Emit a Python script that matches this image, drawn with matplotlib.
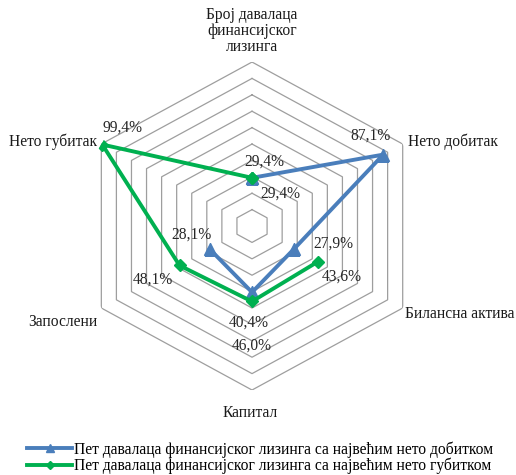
import matplotlib
matplotlib.use("Agg")
import matplotlib.pyplot as plt
import numpy as np

plt.rcParams['font.family'] = ['Liberation Serif', 'DejaVu Serif']

# categories, clockwise from the top
categories = ['Број давалаца\nфинансијског\nлизинга', 'Нето добитак', 'Билансна актива',
              'Капитал', 'Запослени', 'Нето губитак']
# nan = no value (Excel leaves a gap)
profit_vals = [29.4, 87.1, 27.9, 40.4, 28.1, np.nan]
loss_vals = [29.4, np.nan, 43.6, 46.0, 48.1, 99.4]
series_names = ['Пет давалаца финансијског лизинга са највећим нето добитком',
                'Пет давалаца финансијског лизинга са највећим нето губитком']
rings = [10, 20, 30, 40, 50, 60, 70, 80, 90, 100]

blue = '#4A7EBB'
green = '#00B050'
fs = 11.2

fig = plt.figure(figsize=(5.16, 4.75), dpi=100)
ax = fig.add_axes([0.1512, 0.1789, 0.6744, 0.6905], projection='polar')
ax.set_aspect('auto')
ax.set_theta_offset(np.pi / 2)
ax.set_theta_direction(-1)

n = len(categories)
theta = np.arange(n) * 2 * np.pi / n
theta_c = np.append(theta, theta[0])

# hexagon grid
for r in rings:
    ax.plot(theta_c, [r] * (n + 1), color='#9E9E9E', lw=0.9, zorder=1)

ax.grid(False)
ax.spines['polar'].set_visible(False)
ax.set_xticks([])
ax.set_yticks([])
ax.set_ylim(0, 100)

l1, = ax.plot(theta_c, profit_vals + profit_vals[:1], color=blue, lw=2.8,
              marker='^', ms=8, zorder=3, label=series_names[0])
l2, = ax.plot(theta_c, loss_vals + loss_vals[:1], color=green, lw=2.8,
              marker='D', ms=6, zorder=4, label=series_names[1])

# data labels (offsets in pixels)
profit_off = [(28, -16), (-13, 19), (39, 5), (-3, -30), (-18, 14), None]
loss_off = [(12, 16), None, (24, -15), (0, -44), (-27, -14), (20, 17)]
for vals, offs in [(profit_vals, profit_off), (loss_vals, loss_off)]:
    for t, v, o in zip(theta, vals, offs):
        if np.isnan(v):
            continue
        ax.annotate(f"{v:.1f}%".replace('.', ','), xy=(t, v), xytext=o,
                    textcoords='offset pixels', ha='center', va='center',
                    fontsize=fs, color='#262626', zorder=5)

# category labels
cat_off = [(0, 7), (5, 2), (2, -6), (-2, -23), (-4, -14), (-4, 2)]
cat_ha = ['center', 'left', 'left', 'center', 'right', 'right']
cat_va = ['bottom', 'center', 'center', 'center', 'center', 'center']
for t, c, o, ha, va in zip(theta, categories, cat_off, cat_ha, cat_va):
    ax.annotate(c, xy=(t, 100), xytext=o, textcoords='offset pixels',
                ha=ha, va=va, fontsize=fs, color='#1a1a1a',
                multialignment='center', linespacing=1.0)

fig.legend(handles=[l1, l2], loc='upper left', bbox_to_anchor=(27 / 516, 1 - 441 / 475),
           frameon=False, fontsize=fs, borderpad=0, borderaxespad=0,
           handlelength=2.9, handletextpad=0.15, labelspacing=0.0, markerscale=0.7)

fig.savefig('out.png', dpi=100)
